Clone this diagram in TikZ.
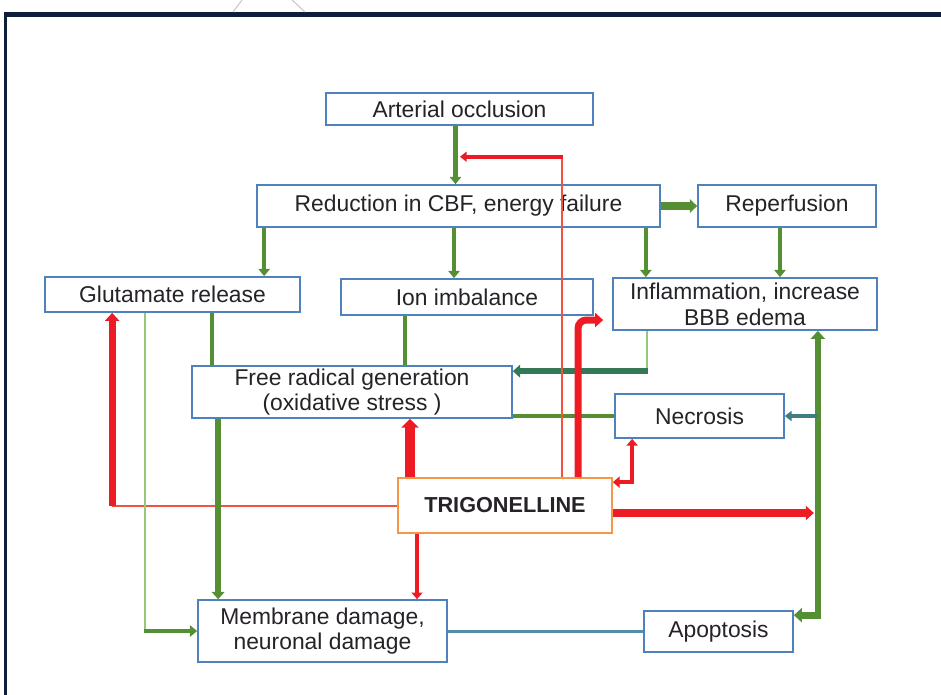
\documentclass[tikz,border=0pt]{standalone}
\usepackage{fontspec}
\setmainfont{Liberation Sans}
\usetikzlibrary{arrows.meta,calc,positioning}
\definecolor{EdgeBlue}{RGB}{79,129,189}
\definecolor{EdgeOrange}{RGB}{247,150,70}
\definecolor{LeafGreen}{RGB}{84,143,52}
\definecolor{PaleGreen}{RGB}{150,200,120}
\definecolor{DeepTeal}{RGB}{52,120,88}
\definecolor{SeaTeal}{RGB}{62,125,130}
\definecolor{SteelBlue}{RGB}{84,140,170}
\definecolor{HotRed}{RGB}{237,28,36}
\definecolor{ThinRed}{RGB}{241,83,64}
\definecolor{FrameNavy}{RGB}{14,30,58}
\definecolor{InkGray}{RGB}{38,34,40}

\begin{document}
\begin{tikzpicture}[x=0.3mm,y=-0.3mm,
  box/.style={draw=EdgeBlue,line width=0.5mm,fill=white,inner sep=0.5mm,align=center,text=InkGray,font=\fontsize{19.5}{22}\selectfont},
  gline/.style={draw=LeafGreen,line width=1.3mm},
  garrow/.style={gline,-{Triangle[length=2.2mm,width=3.4mm]}},
  paleline/.style={draw=PaleGreen,line width=0.6mm},
  rline/.style={draw=ThinRed,line width=0.6mm},
  rarrow/.style={draw=HotRed,line width=2.1mm,-{Triangle[length=2.4mm,width=4.2mm]}}]
\useasboundingbox (0,0) rectangle (941,694);
\draw[FrameNavy,line width=1.5mm] (4,14.5) -- (945,14.5);
\draw[FrameNavy,line width=0.9mm] (5.5,12) -- (5.5,700);
\draw[gray!45,line width=0.3mm] (233,12) -- (242,0) (292,0) -- (305,12);

\node[box,minimum width=80.1mm,minimum height=9.6mm] (art) at (459.5,109) {Arterial occlusion};
\node[box,minimum width=120.9mm,minimum height=12.6mm] (cbf) at (458.5,206) {Reduction in CBF, energy failure};
\node[box,minimum width=53.4mm,minimum height=12.6mm] (rep) at (787,206) {Reperfusion};
\node[box,minimum width=76.5mm,minimum height=10.5mm] (glu) at (172.5,294.5) {Glutamate release};
\node[box,minimum width=75.6mm,minimum height=10.8mm] (ion) at (467,297) {Ion imbalance};
\node[box,minimum width=79.2mm,minimum height=15.6mm] (inf) at (745,304) {Inflammation, increase\\BBB edema};
\node[box,minimum width=96mm,minimum height=15.6mm] (frg) at (352,392) {Free radical generation\\(oxidative stress )};
\node[box,minimum width=50.7mm,minimum height=13.2mm] (nec) at (699.5,416) {Necrosis};
\node[box,draw=EdgeOrange,font=\fontsize{18.5}{22}\selectfont\bfseries,minimum width=64.2mm,minimum height=16.5mm] (tri) at (505,505.5) {TRIGONELLINE};
\node[box,minimum width=74.7mm,minimum height=18.6mm] (mem) at (322.5,631) {Membrane damage,\\neuronal damage};
\node[box,minimum width=44.7mm,minimum height=12.3mm] (apo) at (718.5,631.5) {Apoptosis};

\coordinate (redtop) at ($(art.south)!0.53!(cbf.north)$);
\coordinate (rv) at ([xshift=-18mm]inf.south east);
\coordinate (gl) at ([xshift=20.4mm]glu.south west);

\draw[rline] (tri.west) -- (tri.west -| gl);
\draw[garrow] ([xshift=-1.2mm]art.south) -- ([xshift=-1.2mm]art.south |- cbf.north);
\draw[garrow,line width=2.4mm,-{Triangle[length=2.2mm,width=4mm]}] (cbf.east) -- (rep.west);
\draw[garrow] ([xshift=2.4mm]cbf.south west) -- ([xshift=2.4mm]cbf.south west |- glu.north);
\draw[garrow] ([xshift=-1.35mm]cbf.south) -- ([xshift=-1.35mm]cbf.south |- ion.north);
\draw[garrow] ([xshift=-4.5mm]cbf.south east) -- ([xshift=-4.5mm]cbf.south east |- inf.north);
\draw[garrow] ([xshift=-2.1mm]rep.south) -- ([xshift=-2.1mm]rep.south |- inf.north);
\draw[gline] ([xshift=50.4mm]glu.south west) -- ([xshift=50.4mm]glu.south west |- frg.north);
\draw[gline] ([xshift=19.5mm]ion.south west) -- ([xshift=19.5mm]ion.south west |- frg.north);
\draw[paleline] ([xshift=10.5mm]inf.south west) -- ([xshift=10.5mm,yshift=-1.8mm]inf.south west |- frg.north east);
\draw[draw=DeepTeal,line width=1.8mm,-{Triangle[length=2.2mm,width=3.8mm]}] ([xshift=10.8mm,yshift=-1.8mm]inf.south west |- frg.north east) -- ([yshift=-1.8mm]frg.north east);
\draw[gline] (nec.west) -- (nec.west -| frg.east);
\draw[gline,line width=2mm,{Triangle[length=2.4mm,width=4.2mm]}-{Triangle[length=2.4mm,width=4.2mm]}] (rv) |- ([yshift=-1.5mm]apo.north east);
\draw[draw=SeaTeal,line width=1.2mm,-{Triangle[length=2mm,width=3mm]}] (nec.east -| rv) -- (nec.east);
\draw[paleline] ([xshift=30.3mm]glu.south west) -- ([xshift=30.3mm]glu.south west |- mem.west);
\draw[garrow] ([xshift=30mm]glu.south west |- mem.west) -- (mem.west);
\draw[garrow,line width=1.8mm,-{Triangle[length=2.2mm,width=3.8mm]}] ([xshift=8.1mm]frg.south west) -- ([xshift=8.1mm]frg.south west |- mem.north);
\draw[draw=SteelBlue,line width=0.9mm] (mem.east) -- (mem.east -| apo.west);

\draw[rline] ([xshift=17.1mm]tri.north) -- ([xshift=17.1mm]tri.north |- redtop);
\draw[draw=HotRed,line width=1.1mm,-{Triangle[length=2mm,width=3mm]}] ([xshift=17.3mm]tri.north |- redtop) -- ([xshift=0.3mm]redtop);
\draw[rarrow] (tri.west -| gl) -- (gl);
\draw[rarrow,rounded corners=2.5mm] ([xshift=21.9mm]tri.north) |- ([xshift=-2.7mm,yshift=-4.8mm]inf.west);
\draw[rarrow,line width=3mm,-{Triangle[length=2.6mm,width=5mm]}] ([xshift=-28.5mm]tri.north) -- ([xshift=-28.5mm]tri.north |- frg.south);
\draw[rarrow,line width=1.4mm,-{Triangle[length=2mm,width=3.3mm]}] ([xshift=-26.4mm]tri.south) -- ([xshift=-26.4mm]tri.south |- mem.north);
\draw[rarrow,line width=2.2mm] ([yshift=-2.25mm]tri.east) -- ([xshift=-1.2mm,yshift=-2.25mm]tri.east -| rv);
\draw[rarrow,line width=1.3mm,{Triangle[length=2mm,width=3.3mm]}-{Triangle[length=2mm,width=3.3mm]}] ([xshift=5.4mm]nec.south west) |- ([yshift=-1.5mm]tri.north east);
\end{tikzpicture}
\end{document}
